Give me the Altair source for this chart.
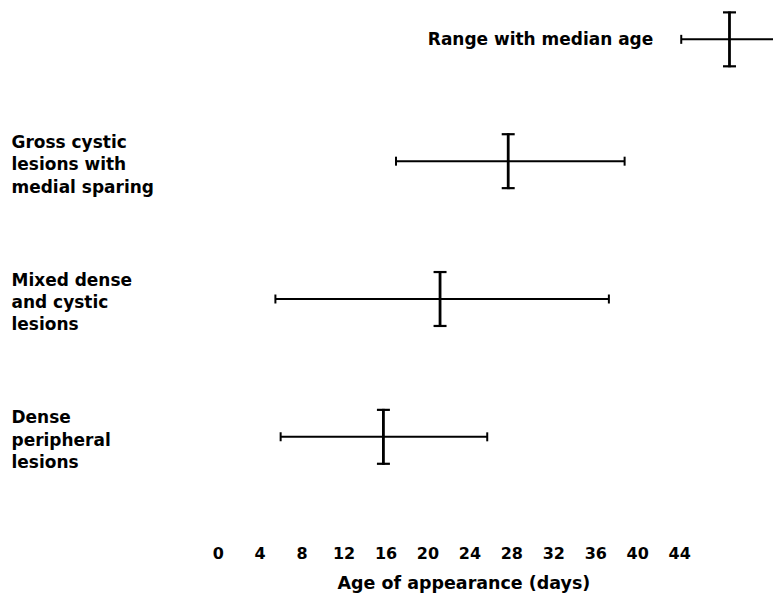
import altair as alt
import pandas as pd

# ---- data ----
categories = [
    "Gross cystic|lesions with|medial sparing",
    "Mixed dense|and cystic|lesions",
    "Dense|peripheral|lesions",
]
range_low = [17.0, 5.5, 6.0]
range_high = [38.8, 37.3, 25.7]
median_age = [27.7, 21.2, 15.8]
x_ticks = [0, 4, 8, 12, 16, 20, 24, 28, 32, 36, 40, 44]

legend_label = ["Range with median age"]
legend_low = [44.2]
legend_median = [48.8]
legend_high = [52.95]   # runs off the right edge of the figure

FONT = "DejaVu Sans"
X_DOMAIN = [0, 52.95]

df = pd.DataFrame({"cat": categories, "lo": range_low, "hi": range_high, "med": median_age})
ldf = pd.DataFrame({"cat": legend_label, "lo": legend_low, "hi": legend_high, "med": legend_median})

xscale = alt.Scale(domain=X_DOMAIN, nice=False, zero=False)

x_axis = alt.Axis(
    values=x_ticks,
    title="Age of appearance (days)",
    domain=False, ticks=False, tickSize=0, grid=False,
    labelFont=FONT, labelFontWeight="bold", labelFontSize=16, labelColor="black",
    labelPadding=40, labelFlush=False,
    titleFont=FONT, titleFontWeight="bold", titleFontSize=17.5, titleColor="black",
    titleX=246, titleY=69, titleAnchor="start", titleAlign="center", titleBaseline="top",
)

y_axis = alt.Axis(
    title=None, domain=False, ticks=False, tickSize=0, grid=False,
    labelAlign="left", labelBaseline="middle", labelPadding=207,
    labelExpr="split(datum.label, '|')",
    labelFont=FONT, labelFontWeight="bold", labelFontSize=17, labelColor="black",
    labelLineHeight=22.5, labelOffset=-19, labelLimit=0,
)


def glyph_layers(data, yenc, xaxis, with_hi_cap=True):
    base = alt.Chart(data).encode(y=yenc)
    layers = [
        base.mark_rule(color="black", strokeWidth=2).encode(
            x=alt.X("lo:Q", scale=xscale, axis=xaxis), x2="hi:Q"),
        base.mark_tick(orient="vertical", size=9, thickness=2, color="black",
                       opacity=1).encode(x=alt.X("lo:Q", scale=xscale, axis=xaxis)),
    ]
    if with_hi_cap:
        layers.append(base.mark_tick(orient="vertical", size=9, thickness=2, color="black",
                                     opacity=1).encode(x=alt.X("hi:Q", scale=xscale, axis=xaxis)))
    layers += [
        base.mark_tick(orient="vertical", size=56, thickness=2.8, color="black",
                       opacity=1).encode(x=alt.X("med:Q", scale=xscale, axis=xaxis)),
        base.mark_tick(orient="horizontal", size=13, thickness=2.2, color="black",
                       opacity=1, yOffset=-27).encode(x=alt.X("med:Q", scale=xscale, axis=xaxis)),
        base.mark_tick(orient="horizontal", size=13, thickness=2.2, color="black",
                       opacity=1, yOffset=27).encode(x=alt.X("med:Q", scale=xscale, axis=xaxis)),
    ]
    return layers


# ---- legend panel ----
ly = alt.Y("cat:N", scale=alt.Scale(type="point", padding=0.5), axis=None)
legend_text = alt.Chart(ldf).mark_text(
    align="right", baseline="alphabetic", dx=-28, dy=6,
    font=FONT, fontWeight="bold", fontSize=17, color="black",
).encode(x=alt.X("lo:Q", scale=xscale, axis=None), y=ly, text="cat:N")

top = alt.layer(*glyph_layers(ldf, ly, None, with_hi_cap=False), legend_text).properties(
    width=556, height=62)

# ---- main panel ----
my = alt.Y("cat:N", sort=categories, scale=alt.Scale(type="point", padding=0.5), axis=y_axis)
bottom = alt.layer(*glyph_layers(df, my, x_axis)).properties(width=556, height=414)

chart = alt.vconcat(top, bottom, spacing=22).configure_view(stroke=None).properties(
    padding={"left": 3, "top": 0, "right": 0, "bottom": 0}, background="white")

chart.save("out.html", embed_options={"renderer": "svg", "actions": False})
